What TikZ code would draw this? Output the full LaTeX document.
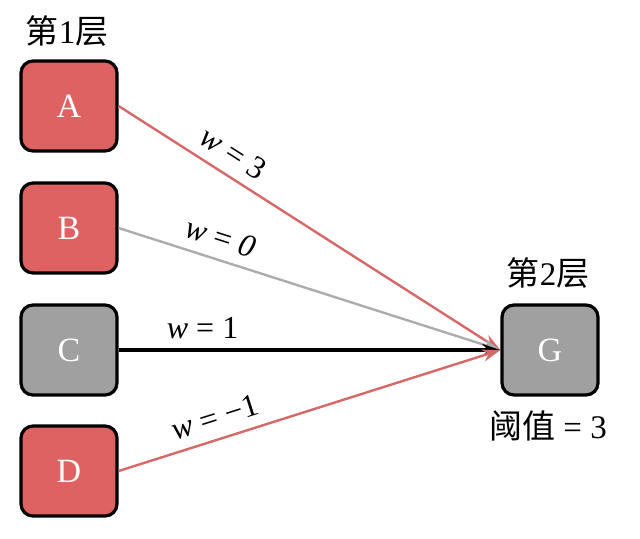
\documentclass[tikz,border=0pt]{standalone}
\usepackage{fontspec}
\setmainfont{Liberation Serif}
\newfontfamily\cjk{Noto Sans CJK SC}
\usetikzlibrary{arrows.meta}
\definecolor{unitred}{RGB}{222,98,98}
\definecolor{unitgray}{RGB}{160,160,160}
\definecolor{linkred}{RGB}{214,104,104}
\definecolor{linkgray}{RGB}{172,172,172}
\tikzset{
    unit/.style={draw=black,line width=1.6pt,rounded corners=6pt,minimum width=48pt,minimum height=45pt,text=white,font=\fontsize{17}{19}\selectfont},
    link/.style={line width=1.2pt,-{Stealth[length=9pt,width=6pt]}},
    weight/.style={text=black,font=\fontsize{16}{18}\selectfont,sloped,above,inner sep=5pt},
    caption/.style={font=\fontsize{16.5}{18}\selectfont}
}
\begin{document}
\begin{tikzpicture}[x=0.5pt,y=-0.5pt]
        \useasboundingbox (0,0) rectangle (640,538);
        %% layer 1
        \node[unit,fill=unitred] (A) at (69,106) {A};
        \node[unit,fill=unitred] (B) at (69,228) {B};
        \node[unit,fill=unitgray] (C) at (69,350) {C};
        \node[unit,fill=unitred] (D) at (69,471) {D};
        \node[caption] (layer1) at (67,31) {{\cjk 第}1{\cjk 层}};
        %% layer 2
        \node[unit,fill=unitgray] (G) at (550,350) {G};
        \node[caption] (layer2) at (548,273) {{\cjk 第}2{\cjk 层}};
        \node[caption] (thresh) at (548,426) {{\cjk 阈值} = 3};
        %% weights
        \draw[link,linkred] (A.east) -- (G.west) node[weight,pos=0.27] {\textit{w} = 3};
        \draw[link,linkgray] (B.east) -- (G.west) node[weight,pos=0.25] {\textit{w} = \textit{0}};
        \draw[link,black,line width=1.6pt] (C.east) -- (G.west) node[weight,pos=0.22] {\textit{w} = 1};
        \draw[link,linkred] (D.east) -- (G.west) node[weight,pos=0.27] {\textit{w} = −1};
    \end{tikzpicture}
\end{document}
